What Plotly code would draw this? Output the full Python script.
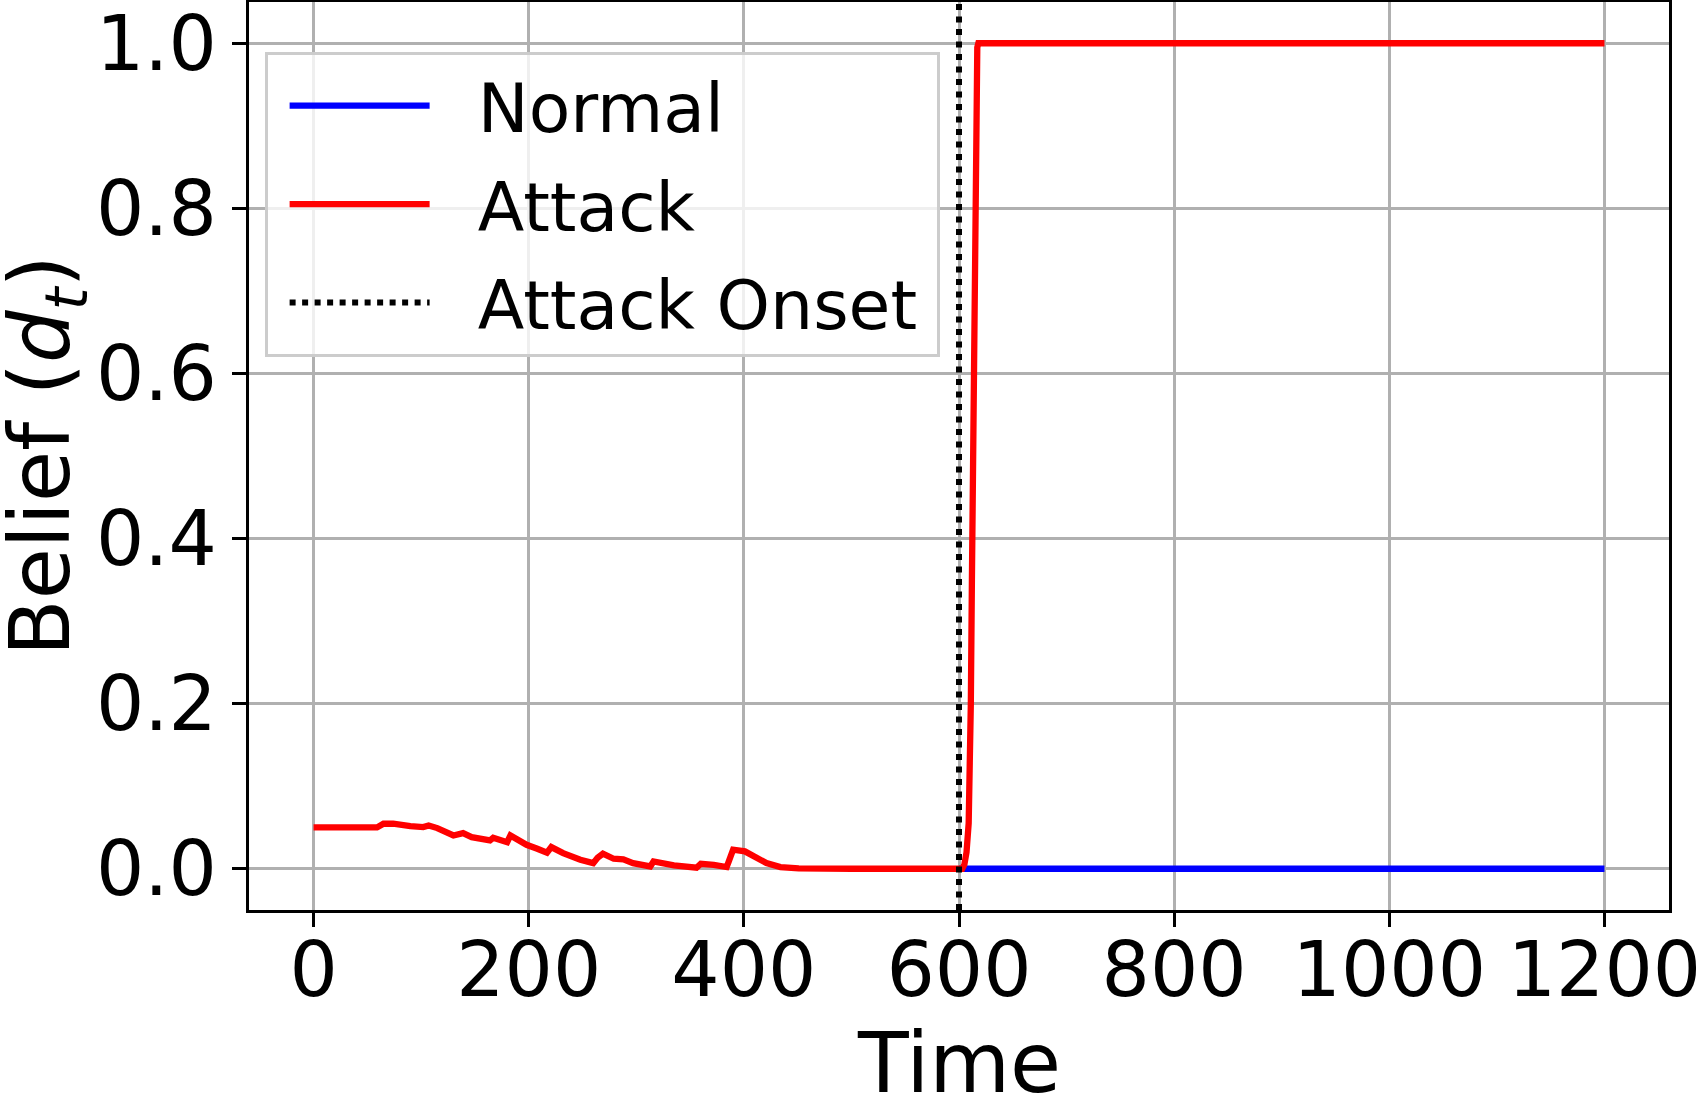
import plotly.graph_objects as go

# ---- data ----
normal_t = [600, 1200]
normal_v = [0.0, 0.0]

attack_t = [0, 59, 65, 74, 90, 102, 107, 115, 130, 139, 147, 164, 167, 180, 183, 198,
            208, 217, 221, 232, 248, 260, 264, 269, 279, 288, 297, 313, 316, 335, 356,
            360, 372, 384, 386, 390, 401, 421, 434, 451, 500, 600, 603, 605, 607, 609,
            610, 611, 612, 613, 614, 615, 616, 617, 618, 1200]
attack_v = [0.050, 0.050, 0.0545, 0.0545, 0.0516, 0.0504, 0.0524, 0.0492, 0.0403, 0.0431,
            0.0383, 0.0343, 0.0375, 0.0322, 0.0403, 0.029, 0.0242, 0.0194, 0.0262, 0.0189,
            0.0109, 0.0068, 0.0133, 0.0182, 0.0121, 0.0113, 0.0068, 0.0028, 0.0088, 0.004,
            0.0012, 0.006, 0.0046, 0.002, 0.0088, 0.023, 0.021, 0.0068, 0.002, 0.0004,
            0.0, 0.0, 0.0, 0.005, 0.02, 0.055, 0.10, 0.20, 0.35, 0.50, 0.65, 0.80, 0.95,
            0.995, 1.0, 1.0]

onset_t = [600, 600]
onset_v = [-0.05, 1.05]

x_ticks = [0, 200, 400, 600, 800, 1000, 1200]
y_ticks = [0.0, 0.2, 0.4, 0.6, 0.8, 1.0]
y_tick_labels = ["0.0", "0.2", "0.4", "0.6", "0.8", "1.0"]

series_names = ["Normal", "Attack", "Attack Onset"]
x_title = "Time"
y_title = "Belief (<i>d</i><sub><i>t</i></sub>)"

FONT = "DejaVu Sans"
PAD = "\u00a0\u00a0"

fig = go.Figure()
fig.add_trace(go.Scatter(x=normal_t, y=normal_v, mode="lines", name=PAD + series_names[0],
                         legendgroup="g1",
                         line=dict(color="#0000ff", width=6.3)))
fig.add_trace(go.Scatter(x=attack_t, y=attack_v, mode="lines", name=PAD + series_names[1],
                         legendgroup="g2",
                         line=dict(color="#ff0000", width=6.3)))
fig.add_trace(go.Scatter(x=onset_t, y=onset_v, mode="lines",
                         name=PAD + series_names[2] + "\u2009",
                         legendgroup="g3",
                         line=dict(color="#000000", width=6, dash="6px,6.5px")))

axis_common = dict(
    showline=True, linecolor="black", linewidth=3, mirror=True,
    ticks="outside", ticklen=14, tickwidth=3, tickcolor="black",
    showgrid=True, gridcolor="#b0b0b0", gridwidth=3, zeroline=False,
    tickfont=dict(family=FONT, size=76, color="black"),
    automargin=False, ticklabeloverflow="allow",
)

fig.update_layout(
    width=1696, height=1094,
    margin=dict(l=249, r=27, t=2, b=184),
    paper_bgcolor="white", plot_bgcolor="white",
    font=dict(family=FONT, color="black"),
    showlegend=True,
    legend=dict(
        x=0.011, y=0.945, xanchor="left", yanchor="top",
        bgcolor="rgba(255,255,255,0.8)", bordercolor="#cccccc", borderwidth=3,
        font=dict(family=FONT, size=68, color="black"),
        itemwidth=140, indentation=17, tracegroupgap=7,
    ),
    xaxis=dict(range=[-60, 1260], tickvals=x_ticks, ticklabelstandoff=-22,
               **axis_common),
    yaxis=dict(range=[-0.05, 1.05], tickvals=y_ticks, ticktext=y_tick_labels,
               **axis_common),
    annotations=[
        dict(text=x_title, xref="paper", yref="paper", x=0.5, y=-0.1694,
             xanchor="center", yanchor="middle", showarrow=False,
             font=dict(family=FONT, size=83, color="black")),
        dict(text=y_title, xref="paper", yref="paper", x=-0.1428, y=0.5,
             xanchor="center", yanchor="middle", showarrow=False, textangle=-90,
             font=dict(family=FONT, size=83, color="black")),
    ],
)

fig.write_html("out.html")
